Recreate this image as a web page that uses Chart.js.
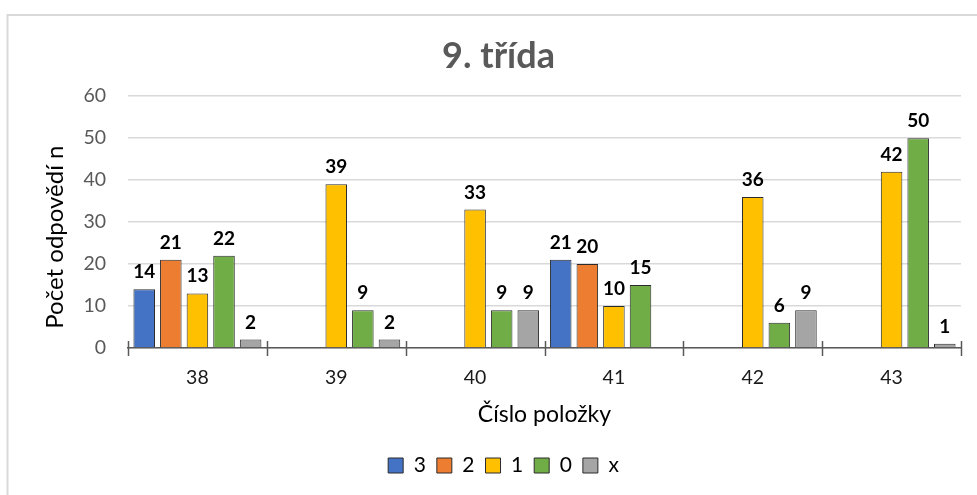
<!DOCTYPE html>
<html>
<head>
<meta charset="utf-8">
<script src="https://cdn.jsdelivr.net/npm/chart.js@4.4.1/dist/chart.umd.min.js"></script>
<style>
  html, body { margin: 0; padding: 0; background: #ffffff; }
  #wrap { width: 977px; height: 495px; position: relative; }
</style>
</head>
<body>
<div id="wrap"><canvas id="chart" width="977" height="495"></canvas></div>
<script>
// Answers per item (Číslo položky), one array per answer code
const categories = ['38', '39', '40', '41', '42', '43'];
const seriesNames = ['3', '2', '1', '0', 'x'];
const answers3 = [14, null, null, 21, null, null];
const answers2 = [21, null, null, 20, null, null];
const answers1 = [13, 39, 33, 10, 36, 42];
const answers0 = [22, 9, 9, 15, 6, 50];
const answersX = [2, 2, 9, null, 9, 1];
const yTickValues = [0, 10, 20, 30, 40, 50, 60];
const yAxisTitle = 'Počet odpovědí n';

const seriesValues = [answers3, answers2, answers1, answers0, answersX];
const seriesColors = ['#4472C4', '#ED7D31', '#FFC000', '#70AD47', '#A5A5A5'];
const FONT = 'Lato';

// light frame around the whole chart
const framePlugin = {
  id: 'frame',
  beforeDraw(chart) {
    const ctx = chart.ctx;
    ctx.save();
    ctx.fillStyle = '#ffffff';
    ctx.fillRect(0, 0, chart.width, chart.height);
    ctx.strokeStyle = '#d9d9d9';
    ctx.lineWidth = 2;
    ctx.strokeRect(7.5, 15, chart.width + 50, chart.height + 50);
    ctx.restore();
  }
};

// title and legend are centred a little right of the canvas centre
const shiftBlocksPlugin = {
  id: 'shiftBlocks',
  afterLayout(chart) {
    if (chart.titleBlock) { chart.titleBlock.left += 18; chart.titleBlock.right += 18; }
    if (chart.legend) { chart.legend.left += 23; chart.legend.right += 23; }
  }
};

// rotated value-axis title, sitting slightly below the plot's middle
const yTitlePlugin = {
  id: 'yTitle',
  afterDraw(chart) {
    const area = chart.chartArea;
    const ctx = chart.ctx;
    ctx.save();
    ctx.translate(63, (area.top + area.bottom) / 2 + 15);
    ctx.rotate(-Math.PI / 2);
    ctx.font = `24px ${FONT}`;
    ctx.fillStyle = '#000000';
    ctx.textAlign = 'center';
    ctx.textBaseline = 'alphabetic';
    ctx.fillText(yAxisTitle, 0, 0);
    ctx.restore();
  }
};

// tick marks crossing the category axis at group boundaries
const crossTicksPlugin = {
  id: 'crossTicks',
  afterDatasetsDraw(chart) {
    const x = chart.scales.x;
    const ctx = chart.ctx;
    const y0 = chart.scales.y.getPixelForValue(0);
    const n = categories.length;
    const step = (x.right - x.left) / n;
    ctx.save();
    ctx.strokeStyle = '#595959';
    ctx.lineWidth = 1.5;
    for (let i = 0; i <= n; i++) {
      const px = Math.round(x.left + i * step) + 0.5;
      ctx.beginPath();
      ctx.moveTo(px, y0 - 7);
      ctx.lineTo(px, y0 + 8);
      ctx.stroke();
    }
    ctx.restore();
  }
};

// value labels above each bar
const valueLabelPlugin = {
  id: 'valueLabels',
  afterDatasetsDraw(chart) {
    const ctx = chart.ctx;
    ctx.save();
    ctx.font = `bold 19px ${FONT}`;
    ctx.fillStyle = '#000000';
    ctx.textAlign = 'center';
    ctx.textBaseline = 'alphabetic';
    chart.data.datasets.forEach((ds, di) => {
      const meta = chart.getDatasetMeta(di);
      meta.data.forEach((bar, i) => {
        const v = ds.data[i];
        if (v === null || v === undefined) return;
        ctx.fillText(String(v), bar.x, bar.y - 11);
      });
    });
    ctx.restore();
  }
};

const datasets = seriesNames.map((name, i) => ({
  label: name,
  data: seriesValues[i],
  backgroundColor: seriesColors[i],
  borderColor: '#2b2b2b',
  borderWidth: 1,
  categoryPercentage: 0.958,
  barPercentage: 0.81
}));

new Chart(document.getElementById('chart'), {
  type: 'bar',
  data: { labels: categories, datasets },
  options: {
    responsive: false,
    animation: false,
    devicePixelRatio: 1,
    layout: { padding: { left: 0, right: 16, top: 0, bottom: 9 } },
    plugins: {
      title: {
        display: true,
        text: '9. třída',
        color: '#595959',
        font: { family: FONT, size: 36, weight: 'bold' },
        padding: { top: 35, bottom: 18 }
      },
      legend: {
        position: 'bottom',
        labels: {
          boxWidth: 15,
          boxHeight: 15,
          padding: 11,
          color: '#000000',
          font: { family: FONT, size: 21 }
        }
      },
      tooltip: { enabled: false }
    },
    scales: {
      x: {
        afterFit(scale) { scale.height = 96; },
        grid: { display: true, drawOnChartArea: false, drawTicks: false },
        border: { display: true, color: '#595959', width: 1.5 },
        ticks: { color: '#1a1a1a', padding: 18, font: { family: FONT, size: 19.5 } },
        title: {
          display: true,
          text: 'Číslo položky',
          color: '#000000',
          font: { family: FONT, size: 23 },
          padding: { top: 4, bottom: 16 }
        }
      },
      y: {
        min: 0,
        max: 60,
        afterFit(scale) { scale.width = 128; },
        afterBuildTicks(scale) {
          scale.ticks = yTickValues.map(v => ({ value: v }));
        },
        grid: { color: '#d9d9d9', lineWidth: 1.5, drawTicks: false },
        border: { display: false },
        ticks: { color: '#595959', padding: 22, font: { family: FONT, size: 19.5 } },
        title: { display: false }
      }
    }
  },
  plugins: [framePlugin, shiftBlocksPlugin, yTitlePlugin, crossTicksPlugin, valueLabelPlugin]
});
</script>
</body>
</html>
